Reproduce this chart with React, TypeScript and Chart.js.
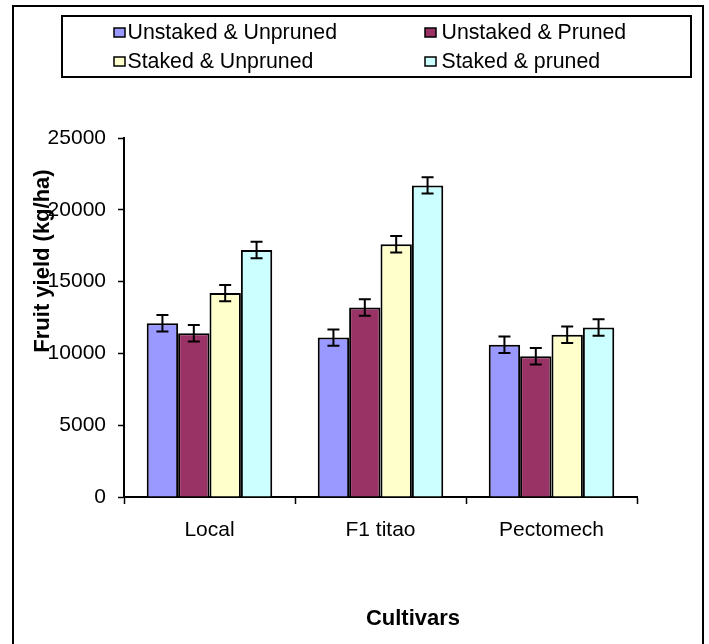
import React, { useEffect, useRef } from "react";
import { Chart, registerables } from "chart.js";

Chart.register(...registerables);

const categories = ["Local", "F1 titao", "Pectomech"];
const seriesNames = [
  "Unstaked & Unpruned",
  "Unstaked & Pruned",
  "Staked & Unpruned",
  "Staked & pruned",
];
const unstakedUnpruned = [12100, 11100, 10600];
const unstakedPruned = [11400, 13200, 9800];
const stakedUnpruned = [14200, 17600, 11300];
const stakedPruned = [17200, 21700, 11800];

const errUnstakedUnpruned = [570, 570, 570];
const errUnstakedPruned = [570, 570, 570];
const errStakedUnpruned = [570, 570, 570];
const errStakedPruned = [570, 570, 570];

const yTicks = [0, 5000, 10000, 15000, 20000, 25000];
const yTickLabels = ["0", "5000", "10000", "15000", "20000", "25000"];
const yTitle = "Fruit yield (kg/ha)";
const xTitle = "Cultivars";

const colors = ["#9999FF", "#993366", "#FFFFCC", "#CCFFFF"];
const FONT = '"Liberation Sans", Arial, sans-serif';
const W = 709;
const H = 644;

const seriesValues = [unstakedUnpruned, unstakedPruned, stakedUnpruned, stakedPruned];
const seriesErrors = [errUnstakedUnpruned, errUnstakedPruned, errStakedUnpruned, errStakedPruned];

const errorBarPlugin = {
  id: "errorBars",
  afterDatasetsDraw(chart: any) {
    const ctx = chart.ctx;
    const y = chart.scales.y;
    ctx.save();
    ctx.strokeStyle = "#000";
    ctx.lineWidth = 2;
    chart.data.datasets.forEach((ds: any, i: number) => {
      const meta = chart.getDatasetMeta(i);
      meta.data.forEach((bar: any, j: number) => {
        const v = ds.data[j];
        const e = ds.errors[j];
        const x = bar.x;
        const yt = y.getPixelForValue(v + e);
        const yb = y.getPixelForValue(v - e);
        ctx.beginPath();
        ctx.moveTo(x, yt);
        ctx.lineTo(x, yb);
        ctx.moveTo(x - 6, yt);
        ctx.lineTo(x + 6, yt);
        ctx.moveTo(x - 6, yb);
        ctx.lineTo(x + 6, yb);
        ctx.stroke();
      });
    });
    ctx.restore();
  },
};

const decorPlugin = {
  id: "decor",
  afterDraw(chart: any) {
    const ctx = chart.ctx;
    ctx.save();
    // outer border
    ctx.strokeStyle = "#000";
    ctx.lineWidth = 2;
    ctx.strokeRect(13, 6, 690, 700);
    // legend box
    ctx.fillStyle = "#fff";
    ctx.fillRect(62, 16, 629, 61);
    ctx.strokeRect(62, 16, 629, 61);
    // legend items
    const pos = [
      [114, 32.5, 127.5],
      [425, 32.5, 441.5],
      [114, 61.5, 127.5],
      [425, 61.5, 441.5],
    ];
    ctx.font = `21.3px ${FONT}`;
    ctx.textBaseline = "middle";
    ctx.textAlign = "left";
    chart.data.datasets.forEach((ds: any, i: number) => {
      const [sx, sy, tx] = pos[i];
      ctx.fillStyle = ds.backgroundColor;
      ctx.fillRect(sx, sy - 4.5, 11, 9);
      ctx.lineWidth = 1.5;
      ctx.strokeStyle = "#000";
      ctx.strokeRect(sx, sy - 4.5, 11, 9);
      ctx.fillStyle = "#000";
      ctx.fillText(ds.label, tx, sy + 1);
    });
    // axis titles
    ctx.fillStyle = "#000";
    ctx.font = `bold 22px ${FONT}`;
    ctx.textAlign = "center";
    ctx.textBaseline = "middle";
    ctx.fillText(xTitle, 413, 619);
    ctx.save();
    ctx.translate(43, 261);
    ctx.rotate(-Math.PI / 2);
    ctx.fillText(yTitle, 0, 0);
    ctx.restore();
    ctx.restore();
  },
};

export default function App() {
  const ref = useRef<HTMLCanvasElement | null>(null);
  useEffect(() => {
    if (!ref.current) return;
    const chart = new Chart(ref.current, {
      type: "bar",
      data: {
        labels: categories,
        datasets: seriesNames.map((name, i) => ({
          label: name,
          data: seriesValues[i],
          errors: seriesErrors[i],
          backgroundColor: colors[i],
          borderColor: "#000",
          borderWidth: 2,
          barPercentage: 1,
          categoryPercentage: 0.734,
        })) as any,
      },
      options: {
        animation: false,
        responsive: false,
        devicePixelRatio: 1,
        layout: { padding: { left: 0, top: 138, right: 72, bottom: 0 } },
        plugins: {
          legend: { display: false },
          tooltip: { enabled: false },
          title: { display: false },
        },
        scales: {
          x: {
            type: "category",
            grid: {
              offset: true,
              drawOnChartArea: false,
              drawTicks: true,
              tickLength: 7,
              tickColor: "#000",
              tickWidth: 1.5,
            },
            border: { color: "#000", width: 2 },
            ticks: { color: "#000", font: { size: 21, family: FONT }, padding: 14 },
            afterFit: (s: any) => {
              s.height = 147;
            },
          },
          y: {
            min: 0,
            max: 25000,
            afterBuildTicks: (s: any) => {
              s.ticks = yTicks.map((v) => ({ value: v }));
            },
            grid: {
              drawOnChartArea: false,
              drawTicks: true,
              tickLength: 6,
              tickColor: "#000",
              tickWidth: 1.5,
            },
            border: { color: "#000", width: 2 },
            ticks: {
              color: "#000",
              font: { size: 21, family: FONT },
              padding: 12,
              callback: (v: any) => {
                const k = yTicks.indexOf(Number(v));
                return k >= 0 ? yTickLabels[k] : String(v);
              },
            },
            afterFit: (s: any) => {
              s.width = 124;
            },
          },
        },
      } as any,
      plugins: [errorBarPlugin, decorPlugin],
    });
    return () => chart.destroy();
  }, []);
  return (
    <div style={{ position: "fixed", left: 0, top: 0, width: W, height: H, background: "#fff" }}>
      <canvas ref={ref} width={W} height={H} style={{ display: "block", width: W, height: H }} />
    </div>
  );
}
